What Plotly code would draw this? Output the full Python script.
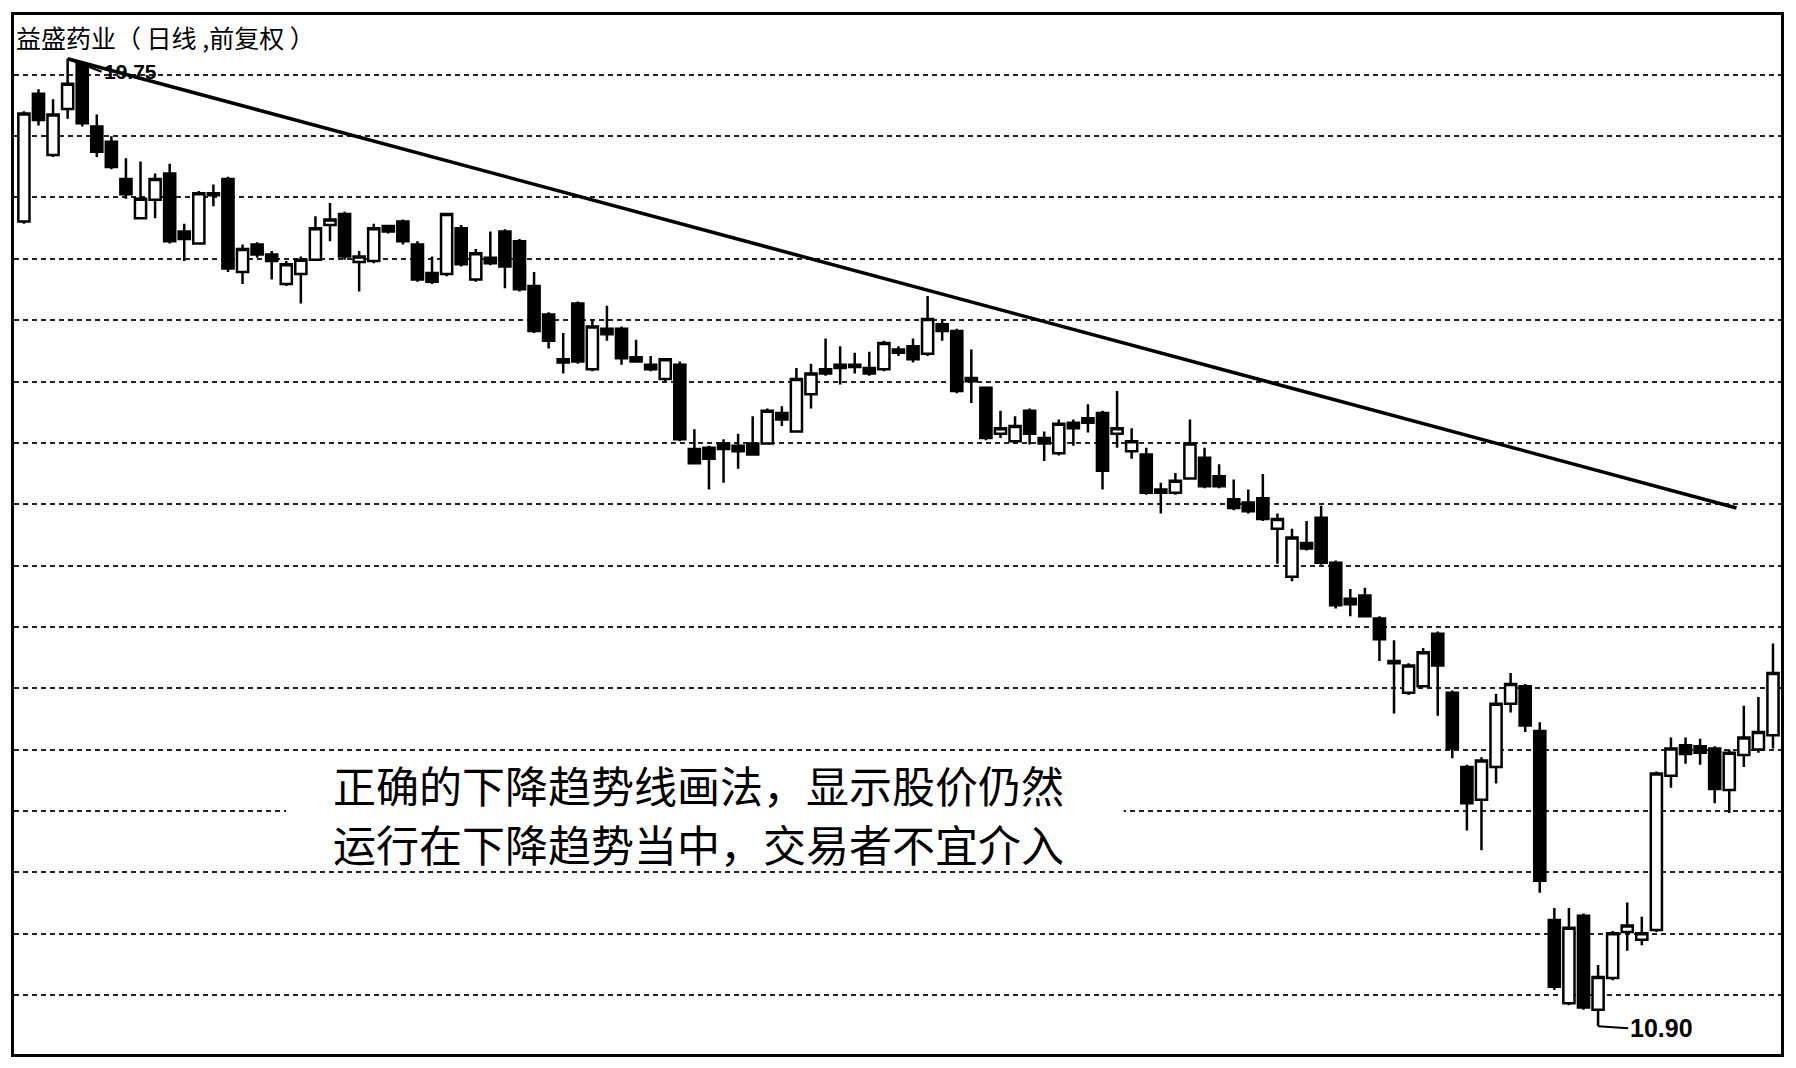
import plotly.graph_objects as go

# ---------------- data ----------------
days = list(range(121))
open_ = [18.26, 19.43, 18.87, 19.29, 19.70, 19.13, 18.99, 18.65, 18.29, 18.46,
         18.70, 18.17, 18.06, 18.52, 18.65, 17.80, 18.05, 17.96, 17.69, 17.78,
         17.91, 18.23, 18.33, 17.89, 17.90, 18.22, 18.26, 18.05, 17.79, 17.78,
         18.20, 17.73, 17.93, 18.17, 18.08, 17.67, 17.41, 17.00, 17.51, 16.91,
         17.28, 17.28, 17.02, 16.95, 16.82, 16.95, 16.18, 16.19, 16.23, 16.21,
         16.23, 16.23, 16.51, 16.34, 16.68, 16.91, 16.95, 16.95, 16.92, 16.91,
         17.09, 17.12, 17.05, 17.32, 17.26, 16.83, 16.74, 16.32, 16.25, 16.53,
         16.28, 16.14, 16.42, 16.46, 16.51, 16.32, 16.16, 16.13, 15.81, 15.78,
         15.91, 16.10, 15.93, 15.72, 15.69, 15.73, 15.45, 15.01, 15.32, 15.55,
         15.14, 14.81, 14.84, 14.63, 14.24, 13.95, 14.01, 14.49, 13.95, 13.27,
         12.97, 13.27, 13.85, 14.01, 13.60, 11.87, 11.11, 11.91, 11.05, 11.34,
         11.76, 11.69, 11.78, 13.19, 13.47, 13.46, 13.44, 13.06, 13.38, 13.43,
         13.56]
high = [19.27, 19.47, 19.38, 19.75, 19.72, 19.24, 19.04, 18.84, 18.81, 18.70,
        18.79, 18.24, 18.54, 18.60, 18.67, 18.05, 18.07, 17.99, 17.90, 17.94,
        18.31, 18.43, 18.35, 17.99, 18.24, 18.23, 18.28, 18.08, 17.94, 18.34,
        18.23, 18.01, 18.17, 18.19, 18.10, 17.80, 17.43, 17.24, 17.53, 17.37,
        17.49, 17.30, 17.18, 17.03, 17.01, 16.98, 16.36, 16.21, 16.27, 16.32,
        16.48, 16.55, 16.57, 16.92, 16.96, 17.19, 17.12, 17.06, 17.07, 17.17,
        17.12, 17.19, 17.58, 17.37, 17.28, 17.09, 16.75, 16.53, 16.48, 16.55,
        16.34, 16.45, 16.45, 16.59, 16.53, 16.71, 16.37, 16.19, 15.87, 15.96,
        16.45, 16.19, 16.04, 15.90, 15.81, 15.95, 15.59, 15.45, 15.52, 15.66,
        15.16, 14.90, 14.91, 14.65, 14.43, 14.22, 14.36, 14.51, 13.97, 13.29,
        13.36, 13.94, 14.13, 14.03, 13.68, 11.98, 11.98, 11.93, 11.46, 11.77,
        12.03, 11.90, 13.23, 13.54, 13.54, 13.53, 13.46, 13.43, 13.83, 13.91,
        14.40]
low = [18.24, 19.14, 18.85, 19.20, 19.13, 18.85, 18.74, 18.47, 18.28, 18.29,
       18.06, 17.90, 18.05, 18.40, 17.80, 17.69, 17.93, 17.73, 17.67, 17.51,
       17.90, 18.08, 17.91, 17.62, 17.88, 18.15, 18.05, 17.71, 17.69, 17.76,
       17.85, 17.71, 17.86, 17.65, 17.62, 17.24, 17.10, 16.87, 16.96, 16.89,
       17.17, 16.95, 16.97, 16.89, 16.80, 16.25, 16.04, 15.81, 15.87, 16.00,
       16.12, 16.22, 16.39, 16.33, 16.55, 16.85, 16.77, 16.87, 16.85, 16.89,
       17.03, 16.97, 17.03, 17.17, 16.69, 16.60, 16.26, 16.28, 16.23, 16.22,
       16.07, 16.12, 16.21, 16.33, 15.81, 16.19, 16.09, 15.76, 15.59, 15.76,
       15.90, 15.82, 15.82, 15.62, 15.59, 15.52, 15.13, 14.97, 15.25, 15.12,
       14.72, 14.65, 14.64, 14.24, 13.76, 13.93, 14.00, 13.74, 13.35, 12.69,
       12.51, 13.12, 13.77, 13.59, 12.12, 11.23, 11.09, 11.05, 10.90, 11.32,
       11.59, 11.64, 11.76, 13.08, 13.30, 13.29, 12.94, 12.85, 13.27, 13.40,
       13.44]
close = [19.25, 19.19, 19.24, 19.52, 19.16, 18.90, 18.76, 18.51, 18.47, 18.65,
         18.08, 18.10, 18.52, 18.50, 17.83, 18.01, 17.96, 17.90, 17.87, 17.91,
         18.20, 18.28, 17.94, 17.94, 18.20, 18.17, 18.08, 17.73, 17.71, 18.33,
         17.87, 17.97, 17.88, 17.85, 17.64, 17.26, 17.17, 16.97, 16.98, 17.30,
         17.23, 17.01, 16.98, 16.91, 17.00, 16.27, 16.05, 16.09, 16.18, 16.16,
         16.13, 16.53, 16.45, 16.82, 16.87, 16.87, 16.92, 16.93, 16.87, 17.15,
         17.06, 17.00, 17.37, 17.26, 16.71, 16.80, 16.28, 16.37, 16.39, 16.32,
         16.23, 16.41, 16.37, 16.42, 15.98, 16.37, 16.25, 15.78, 15.78, 15.89,
         16.23, 15.84, 15.84, 15.64, 15.61, 15.54, 15.54, 15.37, 15.27, 15.14,
         14.75, 14.76, 14.65, 14.44, 14.22, 14.20, 14.32, 14.20, 13.44, 12.94,
         13.33, 13.85, 14.03, 13.65, 12.23, 11.26, 11.80, 11.07, 11.35, 11.75,
         11.82, 11.75, 13.21, 13.44, 13.39, 13.40, 13.07, 13.40, 13.54, 13.59,
         14.13]

trend_x = [3, 117.5]
trend_y = [19.75, 15.64]

title_text = "益盛药业（ 日线 ,前复权 ）"
note_lines = ["正确的下降趋势线画法，显示股价仍然",
              "运行在下降趋势当中，交易者不宜介入"]

# ---------------- figure ----------------
fig = go.Figure()

fig.add_trace(go.Candlestick(
    x=days, open=open_, high=high, low=low, close=close,
    increasing=dict(line=dict(color="black", width=2.5), fillcolor="white"),
    decreasing=dict(line=dict(color="black", width=2.5), fillcolor="black"),
    whiskerwidth=0, showlegend=False, hoverinfo="skip",
))

fig.add_trace(go.Scatter(
    x=trend_x, y=trend_y, mode="lines",
    line=dict(color="black", width=3.5), showlegend=False, hoverinfo="skip",
))

i_max = high.index(max(high))
i_min = low.index(min(low))

annotations = [
    dict(x=0.0, y=0.979, xref="paper", yref="paper", xanchor="left", yanchor="middle",
         text=title_text, showarrow=False,
         font=dict(family="Noto Sans CJK SC", size=25, color="black")),
    dict(x=days[i_max], y=high[i_max], xref="x", yref="y",
         text=f"{high[i_max]:.2f}", showarrow=True, arrowhead=0, arrowwidth=2,
         arrowcolor="black", ax=34, ay=13, xanchor="left", standoff=0,
         font=dict(family="Liberation Sans", size=21, color="black", weight="bold")),
    dict(x=days[i_min], y=low[i_min], xref="x", yref="y",
         text=f"{low[i_min]:.2f}", showarrow=True, arrowhead=0, arrowwidth=2,
         arrowcolor="black", ax=30, ay=2, xanchor="left", standoff=0,
         font=dict(family="Liberation Sans", size=25, color="black", weight="bold")),
]
for line_txt, yp in zip(note_lines, [0.2594, 0.2027]):
    annotations.append(dict(
        x=0.3876, y=yp, xref="paper", yref="paper", xanchor="center", yanchor="middle",
        text=line_txt, showarrow=False,
        font=dict(family="Noto Sans CJK SC", size=43, color="black")))

fig.update_layout(
    width=1796, height=1068,
    margin=dict(l=14, r=12, t=13, b=14),
    paper_bgcolor="white", plot_bgcolor="white",
    boxgap=0.15, boxgroupgap=0.1,
    showlegend=False,
    annotations=annotations,
    shapes=[dict(type="rect", xref="paper", yref="paper",
                 x0=0.154, x1=0.628, y0=0.214, y1=0.250,
                 fillcolor="white", line=dict(width=0), layer="above")],
    xaxis=dict(range=[-0.68, 120.55], showgrid=False, zeroline=False,
               showticklabels=False, ticks="", rangeslider=dict(visible=False),
               showline=True, linecolor="black", linewidth=3, mirror=True),
    yaxis=dict(range=[10.645, 20.15], showgrid=True, gridcolor="#222222",
               gridwidth=2, griddash="5px,4px", tick0=11.184, dtick=0.5613,
               zeroline=False, showticklabels=False, ticks="",
               showline=True, linecolor="black", linewidth=3, mirror=True),
)

fig.write_html("out.html", config={"displayModeBar": False},
               post_script="document.body.style.margin='0px';")
